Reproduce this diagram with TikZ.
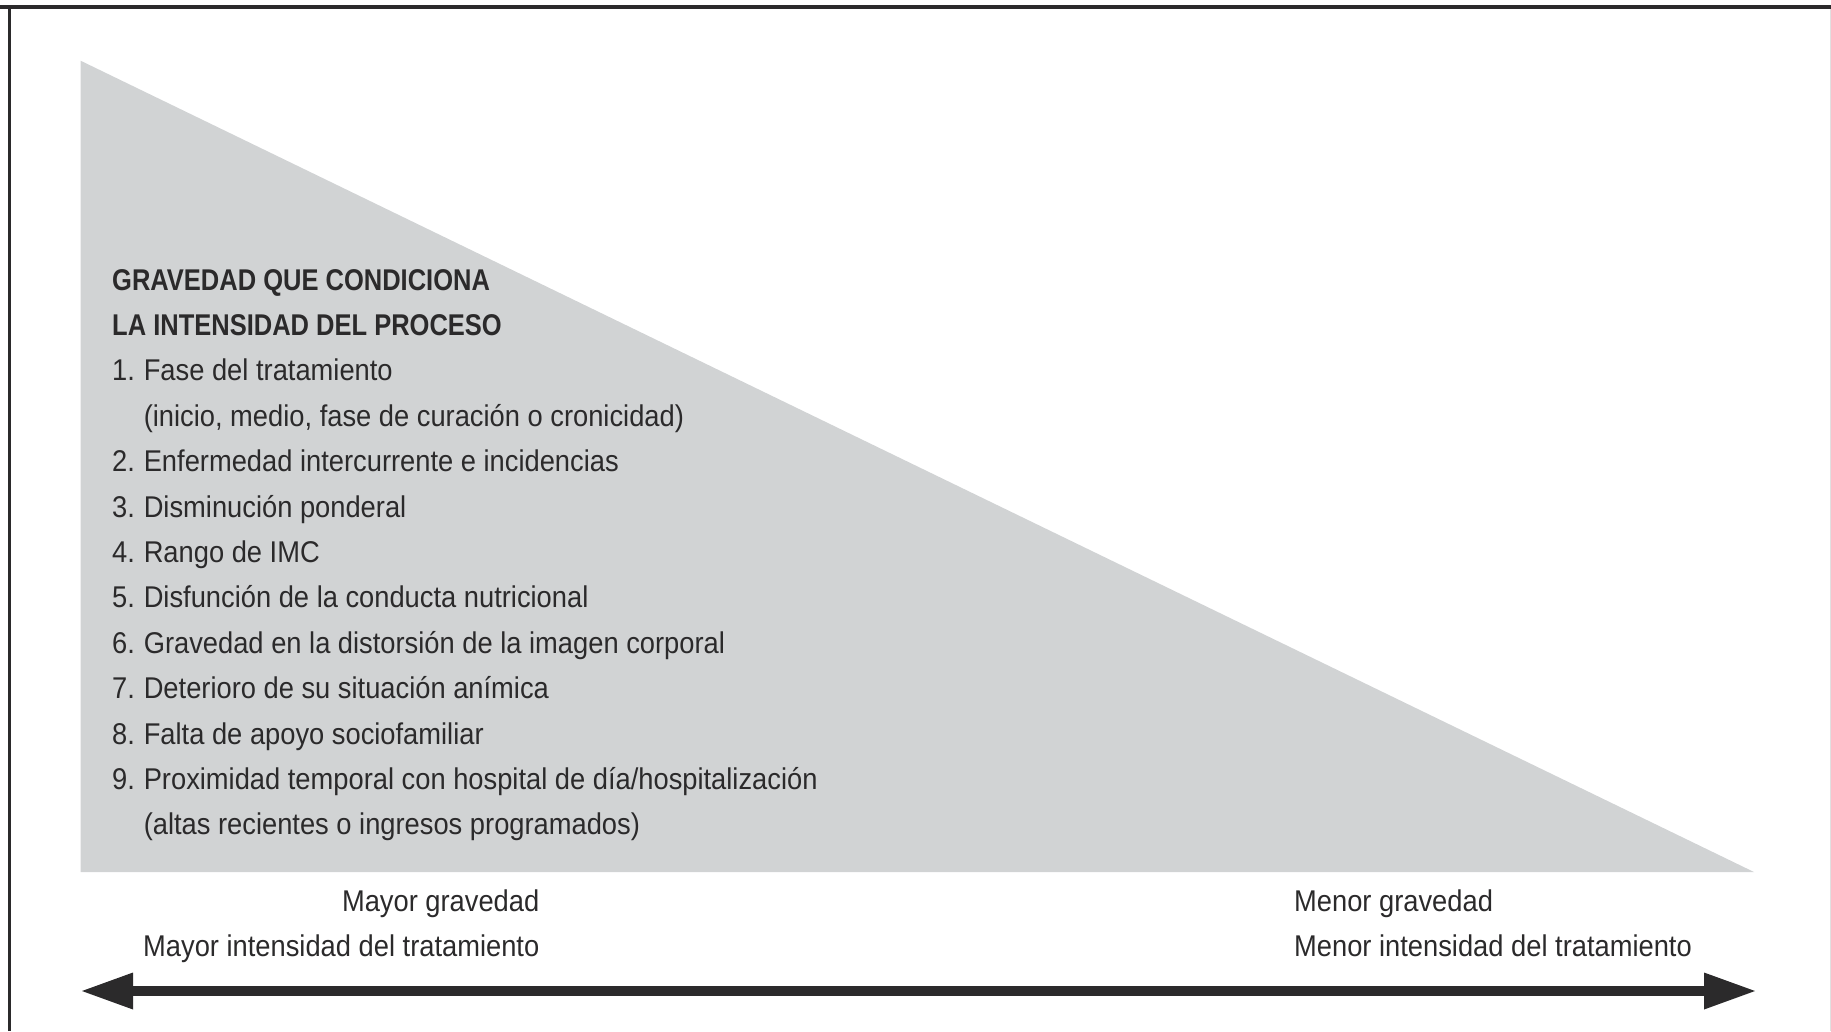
\documentclass[tikz,border=0pt]{standalone}
\usepackage{fontspec}
\setmainfont{Liberation Sans}[FakeStretch=0.91]
\newfontfamily\headfont{Liberation Sans}[FakeStretch=0.85]
\usetikzlibrary{arrows.meta}
\definecolor{ink}{HTML}{2B2A2B}
\definecolor{wedge}{HTML}{D1D3D4}
\newcommand{\itemno}[1]{\makebox[31.6pt][l]{#1}}
\begin{document}
\begin{tikzpicture}[x=1pt,y=-1pt,
  txt/.style={inner sep=0pt, anchor=base west, text=ink, font=\fontsize{30}{36}\selectfont},
  head/.style={txt, font=\headfont\fontsize{30}{36}\selectfont\bfseries},
  rtxt/.style={txt, anchor=base east},
  bigarrow/.style={draw=ink, line width=10pt,
    {Triangle[length=51pt,width=37pt,line width=0pt]}-{Triangle[length=51pt,width=37pt,line width=0pt]}}]
  \useasboundingbox (0,0) rectangle (1831,1031);

  % frame
  \draw[ink, line width=4.5pt] (0,7) -- (1831,7);
  \draw[ink, line width=3pt] (9.5,1031) -- (9.5,5);
  \draw[black!12, line width=1pt] (1830,9) -- (1830,1031);

  % severity wedge
  \fill[wedge] (80.6,60.7) -- (80.6,872) -- (1754,872) -- cycle;

  % list of factors
  \node[head] (h1) at (112,290) {GRAVEDAD QUE CONDICIONA};
  \node[head] (h2) at (112,335.4) {LA INTENSIDAD DEL PROCESO};
  \node[txt] (i1)  at (112,380.8) {\itemno{1.}Fase del tratamiento};
  \node[txt] (i1b) at (143.6,426.2) {(inicio, medio, fase de curación o cronicidad)};
  \node[txt] (i2)  at (112,471.6) {\itemno{2.}Enfermedad intercurrente e incidencias};
  \node[txt] (i3)  at (112,517.0) {\itemno{3.}Disminución ponderal};
  \node[txt] (i4)  at (112,562.4) {\itemno{4.}Rango de IMC};
  \node[txt] (i5)  at (112,607.8) {\itemno{5.}Disfunción de la conducta nutricional};
  \node[txt] (i6)  at (112,653.2) {\itemno{6.}Gravedad en la distorsión de la imagen corporal};
  \node[txt] (i7)  at (112,698.6) {\itemno{7.}Deterioro de su situación anímica};
  \node[txt] (i8)  at (112,744.0) {\itemno{8.}Falta de apoyo sociofamiliar};
  \node[txt] (i9)  at (112,789.4) {\itemno{9.}Proximidad temporal con hospital de día/hospitalización};
  \node[txt] (i9b) at (143.6,834.8) {(altas recientes o ingresos programados)};

  % axis labels
  \node[rtxt] (l1) at (539.5,911) {Mayor gravedad};
  \node[rtxt] (l2) at (539.5,956) {Mayor intensidad del tratamiento};
  \node[txt] (r1) at (1294,911) {Menor gravedad};
  \node[txt] (r2) at (1294,956) {Menor intensidad del tratamiento};

  % double-headed axis
  \coordinate (lend) at (82,991);
  \coordinate (rend) at (1755,991);
  \draw[bigarrow] (lend) -- (rend);
\end{tikzpicture}
\end{document}
